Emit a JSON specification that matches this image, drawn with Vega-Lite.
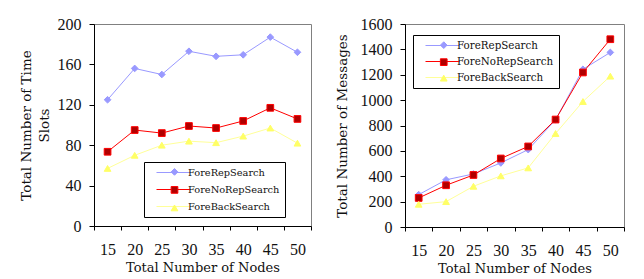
{
  "$schema": "https://vega.github.io/schema/vega-lite/v6.json",
  "background": "white",
  "padding": {"left": 18, "top": 15, "right": 5, "bottom": 0},
  "datasets": {
    "time": [
      {"nodes": 15, "series": "ForeRepSearch", "value": 125},
      {"nodes": 20, "series": "ForeRepSearch", "value": 156},
      {"nodes": 25, "series": "ForeRepSearch", "value": 150},
      {"nodes": 30, "series": "ForeRepSearch", "value": 173},
      {"nodes": 35, "series": "ForeRepSearch", "value": 168},
      {"nodes": 40, "series": "ForeRepSearch", "value": 169.5},
      {"nodes": 45, "series": "ForeRepSearch", "value": 187},
      {"nodes": 50, "series": "ForeRepSearch", "value": 172},
      {"nodes": 15, "series": "ForeNoRepSearch", "value": 73.5},
      {"nodes": 20, "series": "ForeNoRepSearch", "value": 95},
      {"nodes": 25, "series": "ForeNoRepSearch", "value": 92},
      {"nodes": 30, "series": "ForeNoRepSearch", "value": 99},
      {"nodes": 35, "series": "ForeNoRepSearch", "value": 97},
      {"nodes": 40, "series": "ForeNoRepSearch", "value": 104},
      {"nodes": 45, "series": "ForeNoRepSearch", "value": 117},
      {"nodes": 50, "series": "ForeNoRepSearch", "value": 106},
      {"nodes": 15, "series": "ForeBackSearch", "value": 57},
      {"nodes": 20, "series": "ForeBackSearch", "value": 70},
      {"nodes": 25, "series": "ForeBackSearch", "value": 80},
      {"nodes": 30, "series": "ForeBackSearch", "value": 84},
      {"nodes": 35, "series": "ForeBackSearch", "value": 82.5},
      {"nodes": 40, "series": "ForeBackSearch", "value": 89},
      {"nodes": 45, "series": "ForeBackSearch", "value": 97},
      {"nodes": 50, "series": "ForeBackSearch", "value": 82}
    ],
    "msgs": [
      {"nodes": 15, "series": "ForeRepSearch", "value": 255},
      {"nodes": 20, "series": "ForeRepSearch", "value": 372},
      {"nodes": 25, "series": "ForeRepSearch", "value": 418},
      {"nodes": 30, "series": "ForeRepSearch", "value": 505},
      {"nodes": 35, "series": "ForeRepSearch", "value": 610},
      {"nodes": 40, "series": "ForeRepSearch", "value": 845},
      {"nodes": 45, "series": "ForeRepSearch", "value": 1243},
      {"nodes": 50, "series": "ForeRepSearch", "value": 1376},
      {"nodes": 15, "series": "ForeNoRepSearch", "value": 229},
      {"nodes": 20, "series": "ForeNoRepSearch", "value": 329},
      {"nodes": 25, "series": "ForeNoRepSearch", "value": 410},
      {"nodes": 30, "series": "ForeNoRepSearch", "value": 540},
      {"nodes": 35, "series": "ForeNoRepSearch", "value": 635},
      {"nodes": 40, "series": "ForeNoRepSearch", "value": 847},
      {"nodes": 45, "series": "ForeNoRepSearch", "value": 1218},
      {"nodes": 50, "series": "ForeNoRepSearch", "value": 1480},
      {"nodes": 15, "series": "ForeBackSearch", "value": 179},
      {"nodes": 20, "series": "ForeBackSearch", "value": 200},
      {"nodes": 25, "series": "ForeBackSearch", "value": 321},
      {"nodes": 30, "series": "ForeBackSearch", "value": 403},
      {"nodes": 35, "series": "ForeBackSearch", "value": 466},
      {"nodes": 40, "series": "ForeBackSearch", "value": 737},
      {"nodes": 45, "series": "ForeBackSearch", "value": 989},
      {"nodes": 50, "series": "ForeBackSearch", "value": 1189}
    ]
  },
  "spacing": 22,
  "resolve": {"scale": {"color": "independent", "shape": "independent", "fill": "independent", "stroke": "independent"}, "legend": {"color": "independent", "shape": "independent", "fill": "independent", "stroke": "independent"}},
  "hconcat": [
    {
      "width": 217,
      "height": 202,
      "data": {"name": "time"},
      "encoding": {
        "x": {"field": "nodes", "type": "ordinal", "scale": {"type": "band", "paddingInner": 0, "paddingOuter": 0},
          "axis": {"title": "Total Number of Nodes"}},
        "y": {"field": "value", "type": "quantitative", "scale": {"domain": [0, 200], "nice": false},
          "axis": {"values": [0, 40, 80, 120, 160, 200], "title": ["Total Number of Time", "Slots"]}}
      },
      "layer": [
        {
          "mark": {"type": "line", "strokeWidth": 1},
          "encoding": {
            "color": {"field": "series", "type": "nominal", "sort": ["ForeRepSearch", "ForeNoRepSearch", "ForeBackSearch"],
              "scale": {"range": ["#9999ff", "#ff0000", "#ffff99"]},
              "legend": {
                "title": null, "orient": "none", "legendX": 50, "legendY": 138, "direction": "vertical",
                "fillColor": "white", "strokeColor": "black", "padding": 5,
                "labelFont": "DejaVu Serif", "labelFontSize": 9.8, "labelColor": "#111",
                "symbolSize": 100, "symbolStrokeWidth": 1, "labelOffset": 28, "rowPadding": 6,
                "symbolType": "M0.4,0H7.2"
              }}
          }
        },
        {
          "mark": {"type": "point", "filled": true, "size": 45, "opacity": 1, "strokeWidth": 1},
          "encoding": {
            "shape": {"field": "series", "type": "nominal", "scale": {"domain": ["ForeRepSearch", "ForeNoRepSearch", "ForeBackSearch"], "range": ["diamond", "square", "triangle-up"]},
              "legend": {"title": null, "orient": "none", "legendX": 70.6, "legendY": 138, "direction": "vertical", "fillColor": null, "strokeColor": null, "padding": 5,
                "labelFont": "DejaVu Serif", "labelFontSize": 9.8, "labelExpr": "''", "symbolSize": 45, "symbolStrokeWidth": 1, "rowPadding": 6, "symbolOpacity": 1}},
            "fill": {"field": "series", "type": "nominal", "scale": {"domain": ["ForeRepSearch", "ForeNoRepSearch", "ForeBackSearch"], "range": ["#9999ff", "#b00000", "#ffff66"]},
              "legend": {"title": null, "orient": "none", "legendX": 70.6, "legendY": 138, "direction": "vertical", "fillColor": null, "strokeColor": null, "padding": 5,
                "labelFont": "DejaVu Serif", "labelFontSize": 9.8, "labelExpr": "''", "symbolSize": 45, "symbolStrokeWidth": 1, "rowPadding": 6, "symbolOpacity": 1}},
            "stroke": {"field": "series", "type": "nominal", "scale": {"domain": ["ForeRepSearch", "ForeNoRepSearch", "ForeBackSearch"], "range": ["#9999ff", "#ff0000", "#ffff66"]},
              "legend": {"title": null, "orient": "none", "legendX": 70.6, "legendY": 138, "direction": "vertical", "fillColor": null, "strokeColor": null, "padding": 5,
                "labelFont": "DejaVu Serif", "labelFontSize": 9.8, "labelExpr": "''", "symbolSize": 45, "symbolStrokeWidth": 1, "rowPadding": 6, "symbolOpacity": 1}}
          }
        }
      ]
    },
    {
      "width": 219,
      "height": 203,
      "data": {"name": "msgs"},
      "encoding": {
        "x": {"field": "nodes", "type": "ordinal", "scale": {"type": "band", "paddingInner": 0, "paddingOuter": 0},
          "axis": {"title": "Total Number of Nodes"}},
        "y": {"field": "value", "type": "quantitative", "scale": {"domain": [0, 1600], "nice": false},
          "axis": {"values": [0, 200, 400, 600, 800, 1000, 1200, 1400, 1600], "format": "d", "title": "Total Number of Messages", "titlePadding": 11}}
      },
      "layer": [
        {
          "mark": {"type": "line", "strokeWidth": 1},
          "encoding": {
            "color": {"field": "series", "type": "nominal", "sort": ["ForeRepSearch", "ForeNoRepSearch", "ForeBackSearch"],
              "scale": {"range": ["#9999ff", "#ff0000", "#ffff99"]},
              "legend": {
                "title": null, "orient": "none", "legendX": 8, "legendY": 11, "direction": "vertical",
                "fillColor": "white", "strokeColor": "black", "padding": 5,
                "labelFont": "DejaVu Serif", "labelFontSize": 10.3, "labelColor": "#111",
                "symbolSize": 100, "symbolStrokeWidth": 1, "labelOffset": 28, "rowPadding": 5,
                "symbolType": "M0.4,0H7.2"
              }}
          }
        },
        {
          "mark": {"type": "point", "filled": true, "size": 45, "opacity": 1, "strokeWidth": 1},
          "encoding": {
            "shape": {"field": "series", "type": "nominal", "scale": {"domain": ["ForeRepSearch", "ForeNoRepSearch", "ForeBackSearch"], "range": ["diamond", "square", "triangle-up"]},
              "legend": {"title": null, "orient": "none", "legendX": 28.6, "legendY": 11, "direction": "vertical", "fillColor": null, "strokeColor": null, "padding": 5,
                "labelFont": "DejaVu Serif", "labelFontSize": 10.3, "labelExpr": "''", "symbolSize": 45, "symbolStrokeWidth": 1, "rowPadding": 5, "symbolOpacity": 1}},
            "fill": {"field": "series", "type": "nominal", "scale": {"domain": ["ForeRepSearch", "ForeNoRepSearch", "ForeBackSearch"], "range": ["#9999ff", "#b00000", "#ffff66"]},
              "legend": {"title": null, "orient": "none", "legendX": 28.6, "legendY": 11, "direction": "vertical", "fillColor": null, "strokeColor": null, "padding": 5,
                "labelFont": "DejaVu Serif", "labelFontSize": 10.3, "labelExpr": "''", "symbolSize": 45, "symbolStrokeWidth": 1, "rowPadding": 5, "symbolOpacity": 1}},
            "stroke": {"field": "series", "type": "nominal", "scale": {"domain": ["ForeRepSearch", "ForeNoRepSearch", "ForeBackSearch"], "range": ["#9999ff", "#ff0000", "#ffff66"]},
              "legend": {"title": null, "orient": "none", "legendX": 28.6, "legendY": 11, "direction": "vertical", "fillColor": null, "strokeColor": null, "padding": 5,
                "labelFont": "DejaVu Serif", "labelFontSize": 10.3, "labelExpr": "''", "symbolSize": 45, "symbolStrokeWidth": 1, "rowPadding": 5, "symbolOpacity": 1}}
          }
        }
      ]
    }
  ],
  "config": {
    "view": {"stroke": "#808080", "strokeWidth": 1},
    "axis": {
      "grid": false, "domainColor": "black", "tickColor": "black", "labelColor": "#111", "titleColor": "#111",
      "labelFont": "Liberation Serif", "labelFontSize": 16, "titleFont": "DejaVu Serif", "titleFontWeight": "normal"
    },
    "axisX": {"labelAngle": 0, "tickBand": "extent", "tickSize": 4, "labelPadding": 11, "titleFontSize": 13, "titlePadding": 4},
    "axisY": {"tickSize": 5, "labelPadding": 8, "titleFontSize": 13.5, "titleLineHeight": 18, "titlePadding": 6}
  }
}
